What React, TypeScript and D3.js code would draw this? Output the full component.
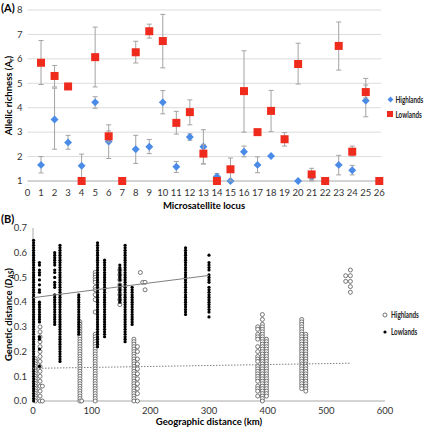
import React from "react";
import * as d3 from "d3";

// ---------- Panel A data ----------
const loci = [1, 2, 3, 4, 5, 6, 7, 8, 9, 10, 11, 12, 13, 14, 15, 16, 17, 18, 19, 20, 21, 22, 23, 24, 25, 26];
const highMean = [1.66, 3.52, 2.58, 1.62, 4.22, 2.62, 1.0, 2.3, 2.4, 4.22, 1.58, 2.8, 2.4, 1.18, 1.0, 2.2, 1.66, 2.02, 2.7, 1.0, 1.18, 1.0, 1.66, 1.44, 4.29, 1.0];
const highLo = [1.33, 2.3, 2.3, 1.0, 3.98, 1.92, null, 1.72, 2.12, 3.75, 1.35, 2.67, 1.7, 1.0, null, 1.99, 1.34, null, null, null, 1.05, null, 1.25, 1.25, 3.63, null];
const highHi = [2.0, 4.8, 2.87, 2.1, 4.45, 3.3, null, 2.87, 2.7, 4.7, 1.8, 2.93, 3.1, 1.31, null, 2.43, 1.99, null, null, null, 1.3, null, 2.05, 1.64, 4.93, null];
const lowMean = [5.84, 5.3, 4.87, 1.0, 6.07, 2.83, 1.0, 6.27, 7.13, 6.73, 3.38, 3.82, 2.12, 1.0, 1.48, 4.68, 3.0, 3.87, 2.71, 5.79, 1.27, 1.0, 6.53, 2.2, 4.64, 1.0];
const lowLo = [4.95, 4.85, null, null, 4.85, 2.6, 1.0, 5.83, 6.85, 5.63, 2.92, 3.3, 1.7, null, 1.0, 3.0, null, 3.02, 2.43, 4.97, 1.0, null, 5.54, 2.02, 4.4, null];
const lowHi = [6.75, 5.73, null, null, 7.3, 3.05, 1.1, 6.72, 7.42, 7.82, 3.85, 4.32, 2.5, null, 1.94, 6.33, null, 4.71, 2.98, 6.64, 1.52, null, 7.51, 2.43, 5.2, null];
const yTicksA = [1, 2, 3, 4, 5, 6, 7, 8];
const xTicksA = [0, 1, 2, 3, 4, 5, 6, 7, 8, 9, 10, 11, 12, 13, 14, 15, 16, 17, 18, 19, 20, 21, 22, 23, 24, 25, 26];

// ---------- Panel B data ----------
const lowlandsColumns = [
  { km: 1, values: [0.65, 0.64, 0.63, 0.62, 0.61, 0.60, 0.59, 0.58, 0.57, 0.56, 0.55, 0.54, 0.53, 0.52, 0.51, 0.50, 0.49, 0.48, 0.47, 0.46, 0.45, 0.44, 0.43, 0.42, 0.41, 0.40, 0.39, 0.38, 0.37, 0.36, 0.35, 0.34, 0.33, 0.32, 0.31, 0.30, 0.29, 0.28, 0.27, 0.26, 0.25, 0.24, 0.23, 0.22, 0.21, 0.20, 0.19, 0.18, 0.17, 0.16, 0.15, 0.14, 0.13, 0.12, 0.11, 0.10, 0.09, 0.08, 0.07, 0.06, 0.05, 0.04, 0.03, 0.02, 0.01, 0.00] },
  { km: 11, values: [0.56, 0.55, 0.53, 0.52, 0.51, 0.49, 0.47, 0.45, 0.44, 0.40, 0.39, 0.38, 0.37, 0.36, 0.35, 0.34, 0.33, 0.32, 0.26, 0.25, 0.21, 0.14] },
  { km: 37, values: [0.60, 0.59, 0.58, 0.57, 0.56, 0.55, 0.53, 0.52, 0.50, 0.48, 0.47, 0.46, 0.43, 0.42, 0.41, 0.40, 0.39, 0.38, 0.37, 0.36, 0.35, 0.34, 0.33, 0.32, 0.31] },
  { km: 46, values: [0.63, 0.62, 0.61, 0.60, 0.59, 0.58, 0.57, 0.56, 0.55, 0.54, 0.53, 0.52, 0.51, 0.50, 0.49, 0.48, 0.47, 0.46, 0.45, 0.44, 0.43, 0.42, 0.41, 0.40, 0.39, 0.38, 0.37, 0.36, 0.35, 0.34, 0.33, 0.32, 0.31, 0.30, 0.29, 0.28, 0.27, 0.26, 0.25, 0.24, 0.23, 0.22, 0.21, 0.20, 0.19, 0.18, 0.17, 0.16] },
  { km: 78, values: [0.43, 0.42, 0.41, 0.40, 0.39, 0.38, 0.37, 0.36, 0.35, 0.34, 0.33, 0.32, 0.31, 0.30, 0.29, 0.28, 0.27] },
  { km: 110, values: [0.64, 0.63, 0.62, 0.61, 0.60, 0.59, 0.58, 0.57, 0.56, 0.55, 0.54, 0.53, 0.52, 0.51, 0.50, 0.49, 0.48, 0.47, 0.46, 0.45, 0.44, 0.43, 0.42, 0.41, 0.40, 0.39, 0.38, 0.37, 0.36, 0.35, 0.34, 0.33, 0.32, 0.31, 0.30, 0.29, 0.28, 0.27, 0.26, 0.25, 0.24, 0.23, 0.22] },
  { km: 122, values: [0.57, 0.56, 0.55, 0.54, 0.53, 0.52, 0.51, 0.50, 0.49, 0.48, 0.47, 0.46, 0.45, 0.44, 0.43, 0.42, 0.41, 0.40, 0.39, 0.38, 0.37, 0.36, 0.35, 0.34, 0.33, 0.32, 0.31, 0.30, 0.29, 0.28, 0.27, 0.26] },
  { km: 148, values: [0.55, 0.54, 0.53, 0.52, 0.51, 0.50, 0.49, 0.47, 0.46, 0.45, 0.44, 0.43, 0.42, 0.41, 0.40] },
  { km: 157, values: [0.63, 0.62, 0.61, 0.60, 0.59, 0.58, 0.57, 0.56, 0.55, 0.54, 0.53, 0.52, 0.51, 0.50, 0.49, 0.48, 0.47, 0.46, 0.45, 0.44, 0.43, 0.42, 0.41, 0.40, 0.39, 0.38, 0.37, 0.36, 0.35, 0.34, 0.33, 0.32, 0.31, 0.30, 0.29, 0.28, 0.27, 0.26, 0.25, 0.24] },
  { km: 169, values: [0.46, 0.45, 0.44, 0.43, 0.42, 0.41, 0.40, 0.39, 0.38, 0.37, 0.36, 0.35, 0.34, 0.33, 0.32, 0.31] },
  { km: 260, values: [0.62, 0.61, 0.60, 0.59, 0.58, 0.57, 0.56, 0.55, 0.54, 0.53, 0.52, 0.51, 0.50, 0.49, 0.48, 0.47, 0.46, 0.45, 0.44, 0.43, 0.42, 0.41, 0.40, 0.39, 0.38, 0.37, 0.36, 0.35] },
  { km: 300, values: [0.59, 0.56, 0.55, 0.54, 0.53, 0.51, 0.50, 0.49, 0.48, 0.46, 0.45, 0.44, 0.43, 0.42, 0.41, 0.40, 0.39, 0.38, 0.37, 0.36, 0.34] },
];

const highlandsColumns = [
  { km: 4, values: [0.17, 0.16, 0.15, 0.14, 0.13, 0.12, 0.11, 0.10, 0.09, 0.08, 0.07, 0.06, 0.05, 0.04, 0.03, 0.02, 0.01, 0.00] },
  { km: 12, values: [0.30, 0.28, 0.26, 0.24, 0.22, 0.20, 0.18, 0.16, 0.14, 0.12, 0.10, 0.08, 0.06, 0.04, 0.02, 0.00] },
  { km: 16, values: [0.06, 0.00] },
  { km: 80, values: [0.32, 0.31, 0.30, 0.29, 0.28, 0.27, 0.26, 0.25, 0.24, 0.23, 0.22, 0.21, 0.20, 0.19, 0.18, 0.17, 0.16, 0.15, 0.14, 0.13, 0.12, 0.11, 0.10, 0.09, 0.08, 0.07, 0.06, 0.05, 0.04, 0.03, 0.02, 0.01, 0.00] },
  { km: 83, values: [0.00] },
  { km: 106, values: [0.52, 0.51, 0.50, 0.49, 0.48, 0.46, 0.45, 0.43, 0.41, 0.36, 0.27, 0.26, 0.25, 0.24, 0.23, 0.22, 0.21, 0.20, 0.19, 0.18, 0.17, 0.16, 0.15, 0.14, 0.13, 0.12, 0.11, 0.10, 0.09, 0.08, 0.07, 0.06, 0.05, 0.04, 0.03, 0.02, 0.01, 0.00] },
  { km: 148, values: [0.53, 0.51, 0.49, 0.47, 0.45, 0.43, 0.41, 0.39] },
  { km: 172, values: [0.25, 0.24, 0.23, 0.22, 0.21, 0.20, 0.19, 0.18, 0.17, 0.16, 0.15, 0.14, 0.13, 0.12, 0.11, 0.10, 0.09, 0.08, 0.07, 0.06, 0.05, 0.04, 0.03, 0.02, 0.01, 0.00] },
  { km: 178, values: [0.22, 0.20, 0.17, 0.15, 0.13, 0.11, 0.09, 0.07, 0.05, 0.03, 0.00] },
  { km: 183, values: [0.52] },
  { km: 187, values: [0.48] },
  { km: 191, values: [0.48, 0.45] },
  { km: 383, values: [0.30, 0.29, 0.27, 0.26, 0.25, 0.22, 0.20, 0.18, 0.17, 0.16, 0.14, 0.13, 0.12, 0.11, 0.10, 0.09, 0.08, 0.06, 0.05, 0.04, 0.02] },
  { km: 391, values: [0.35, 0.33, 0.31, 0.30, 0.29, 0.28, 0.27, 0.26, 0.25, 0.24, 0.23, 0.22, 0.21, 0.20, 0.19, 0.18, 0.17, 0.16, 0.15, 0.14, 0.13, 0.12, 0.11, 0.10, 0.09, 0.08, 0.07, 0.06, 0.05, 0.04, 0.03, 0.02, 0.01, 0.00] },
  { km: 398, values: [0.25, 0.24, 0.23, 0.22, 0.21, 0.20, 0.19, 0.18, 0.17, 0.16, 0.15, 0.14, 0.13, 0.12, 0.11, 0.10, 0.09, 0.08, 0.07, 0.06, 0.05, 0.04, 0.03, 0.02] },
  { km: 458, values: [0.33, 0.32, 0.31, 0.30, 0.29, 0.28, 0.27, 0.26, 0.25, 0.24, 0.23, 0.22, 0.21, 0.20, 0.19, 0.18, 0.17, 0.16, 0.15, 0.14, 0.13, 0.12, 0.11, 0.10, 0.09, 0.08, 0.07, 0.06, 0.05] },
  { km: 465, values: [0.27, 0.26, 0.25, 0.24, 0.23, 0.22, 0.21, 0.20, 0.19, 0.18, 0.17, 0.16, 0.15, 0.14, 0.13, 0.12, 0.11, 0.10, 0.09, 0.08, 0.07, 0.06, 0.05, 0.04] },
  { km: 533, values: [0.507, 0.484] },
  { km: 541, values: [0.53, 0.507, 0.484, 0.463, 0.44] },
];

const lowlandsTrend: [number, number][] = [[0, 0.418], [300, 0.508]];
const highlandsTrend: [number, number][] = [[0, 0.132], [542, 0.153]];
const yTicksB = [0, 0.1, 0.2, 0.3, 0.4, 0.5, 0.6, 0.7];
const xTicksB = [0, 100, 200, 300, 400, 500, 600];

const FONT = "Lato, 'Open Sans', sans-serif";
const BLUE = "#4a8be8";
const RED = "#ee2b1d";
const ERR = "#a3a3a3";
const TICK_FS = 9.5;
const TITLE_FS = 9.5;

export default function App() {
  const xA = d3.scaleLinear().domain([0, 26]).range([27.5, 379.3]);
  const yA = d3.scaleLinear().domain([1, 8]).range([181, 10]);
  const xB = d3.scaleLinear().domain([0, 600]).range([33, 385]);
  const yB = d3.scaleLinear().domain([0, 0.7]).range([401, 228]);
  const line = d3.line<[number, number]>().x((d) => xB(d[0])).y((d) => yB(d[1]));
  const diamond = d3.symbol().type(d3.symbolDiamond2).size(40)() as string;

  const errBars = (lo: (number | null)[], hi: (number | null)[], key: string) =>
    loci.map((l, i) => {
      const a = lo[i];
      const b = hi[i];
      if (a == null || b == null) return null;
      const x = xA(l);
      return (
        <g key={key + i} stroke={ERR} strokeWidth={1}>
          <line x1={x} x2={x} y1={yA(a)} y2={yA(b)} />
          <line x1={x - 2.5} x2={x + 2.5} y1={yA(a)} y2={yA(a)} />
          <line x1={x - 2.5} x2={x + 2.5} y1={yA(b)} y2={yA(b)} />
        </g>
      );
    });

  const legendText = (x: number, y: number, label: string) => (
    <text transform={`translate(${x},${y}) scale(0.74,1)`} fontSize={8.5} fontWeight="bold" fill="#222">{label}</text>
  );

  return (
    <svg width={429} height={428} style={{ position: "absolute", left: 0, top: 0, background: "#fff" }} fontFamily={FONT}>
      {/* ===== Panel A ===== */}
      <text x={1} y={12} fontSize={11} fontWeight="bold">(A)</text>
      {yTicksA.map((t) => (
        <line key={"ga" + t} x1={xA(0)} x2={xA(26) + 2} y1={yA(t)} y2={yA(t)} stroke={t === 1 ? "#a8a8a8" : "#dcdcdc"} strokeWidth={1} />
      ))}
      {yTicksA.map((t) => (
        <text key={"ya" + t} x={22.5} y={yA(t) + 3.3} fontSize={TICK_FS} textAnchor="end" fill="#333">{t}</text>
      ))}
      {xTicksA.map((t) => (
        <text key={"xa" + t} x={xA(t)} y={195.5} fontSize={TICK_FS} textAnchor="middle" fill="#333">{t}</text>
      ))}
      <text x={204} y={208.5} fontSize={TITLE_FS} fontWeight="bold" textAnchor="middle">Microsatellite locus</text>
      <text transform={`translate(11.5, ${yA(4.5)}) rotate(-90)`} fontSize={TITLE_FS} fontWeight="bold" textAnchor="middle">
        Allelic richness (A<tspan fontSize={7} dy={2}>r</tspan><tspan dy={-2}>)</tspan>
      </text>
      {errBars(highLo, highHi, "he")}
      {loci.map((l, i) => (
        <path key={"hm" + i} d={diamond} transform={`translate(${xA(l)},${yA(highMean[i])})`} fill={BLUE} />
      ))}
      {errBars(lowLo, lowHi, "le")}
      {loci.map((l, i) => (
        <rect key={"lm" + i} x={xA(l) - 4} y={yA(lowMean[i]) - 4} width={8} height={8} fill={RED} />
      ))}
      {/* legend A */}
      <path d={d3.symbol().type(d3.symbolDiamond2).size(22)() as string} transform="translate(390.5,99.5)" fill={BLUE} />
      {legendText(395.5, 102.5, "Highlands")}
      <rect x={387} y={111} width={6} height={6} fill={RED} />
      {legendText(395.5, 117.5, "Lowlands")}

      {/* ===== Panel B ===== */}
      <text x={1} y={223} fontSize={11} fontWeight="bold">(B)</text>
      <line x1={xB(0)} x2={xB(0)} y1={yB(0)} y2={yB(0.7)} stroke="#a8a8a8" />
      <line x1={xB(0)} x2={xB(600)} y1={yB(0)} y2={yB(0)} stroke="#a8a8a8" />
      {yTicksB.map((t) => (
        <text key={"yb" + t} x={27} y={yB(t) + 3.3} fontSize={TICK_FS} textAnchor="end" fill="#333">{t.toFixed(1)}</text>
      ))}
      {xTicksB.map((t) => (
        <text key={"xb" + t} x={xB(t)} y={414} fontSize={TICK_FS} textAnchor="middle" fill="#333">{t}</text>
      ))}
      <text x={209} y={425} fontSize={TITLE_FS} fontWeight="bold" textAnchor="middle">Geographic distance (km)</text>
      <text transform={`translate(11.5, ${yB(0.35)}) rotate(-90)`} fontSize={TITLE_FS} fontWeight="bold" textAnchor="middle">
        Genetic distance (<tspan fontStyle="italic">D</tspan><tspan fontSize={7} dy={2} fontStyle="italic">AS</tspan><tspan dy={-2}>)</tspan>
      </text>
      {highlandsColumns.map((c) =>
        c.values.map((v, j) => (
          <circle key={"hc" + c.km + "_" + j} cx={xB(c.km)} cy={yB(v)} r={2} fill="#fff" stroke="#555" strokeWidth={0.8} />
        ))
      )}
      {lowlandsColumns.map((c) =>
        c.values.map((v, j) => (
          <circle key={"lc" + c.km + "_" + j} cx={xB(c.km)} cy={yB(v)} r={1.6} fill="#000" />
        ))
      )}
      <path d={line(lowlandsTrend) as string} fill="none" stroke="#808080" strokeWidth={1} />
      <path d={line(highlandsTrend) as string} fill="none" stroke="#808080" strokeWidth={1} strokeDasharray="1.5,1.5" />
      {/* legend B */}
      <circle cx={385} cy={315} r={2} fill="#fff" stroke="#555" strokeWidth={0.8} />
      {legendText(391, 318, "Highlands")}
      <circle cx={385} cy={332} r={1.6} fill="#000" />
      {legendText(391, 335, "Lowlands")}
    </svg>
  );
}
